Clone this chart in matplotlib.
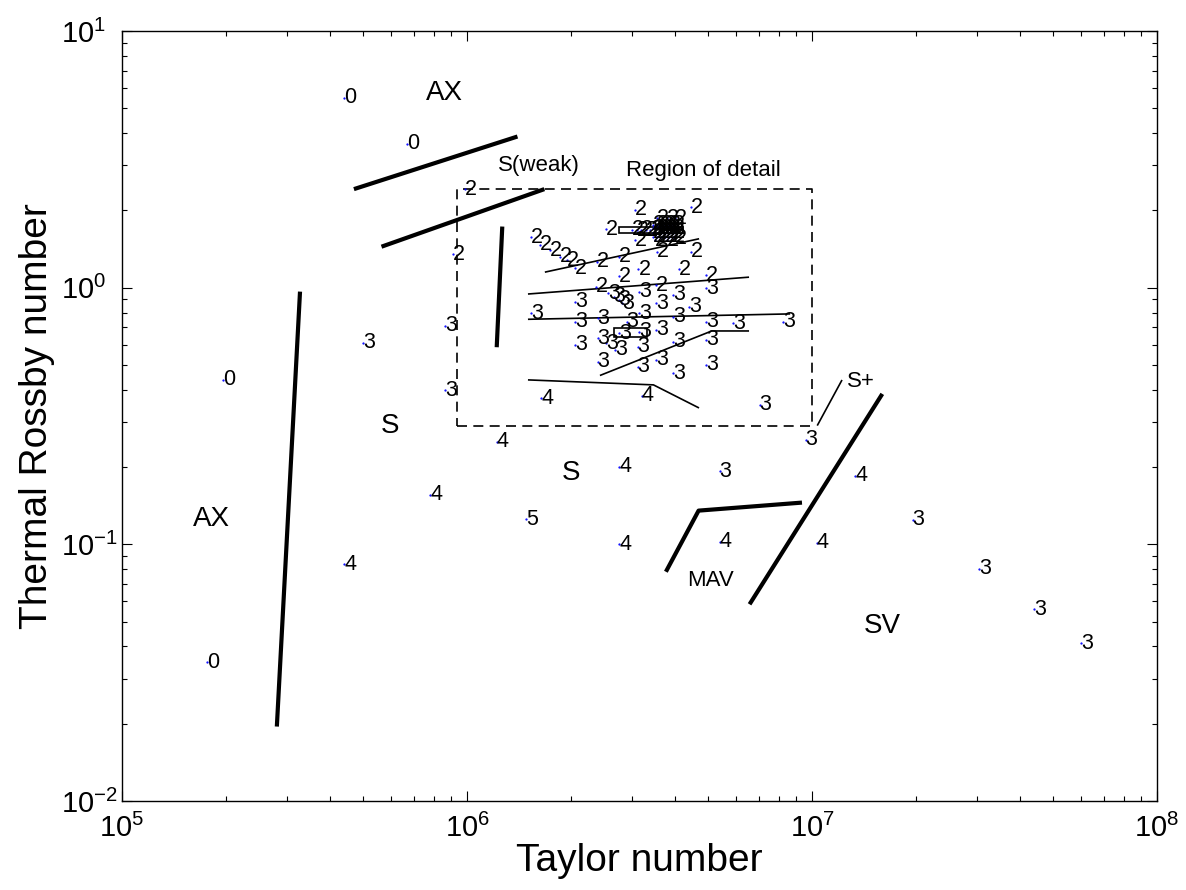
import matplotlib
matplotlib.use('Agg')
import matplotlib.pyplot as plt
from matplotlib.patches import Rectangle
from matplotlib.ticker import LogLocator, NullFormatter

plt.rcParams['font.family'] = ['Liberation Sans', 'DejaVu Sans']
plt.rcParams['mathtext.fontset'] = 'custom'
plt.rcParams['mathtext.rm'] = 'Liberation Sans'
plt.rcParams['mathtext.it'] = 'Liberation Sans:italic'

# experiment points, labelled by wavenumber (Taylor number, thermal Rossby number)
mode0_ta = [4.41e5, 6.69e5, 1.96e5, 1.76e5]
mode0_ro = [5.50, 3.63, 0.437, 0.0347]

mode2_ta = [9.87e5, 9.09e5, 3.07e6, 4.46e6, 2.53e6,
            3.00e6, 3.10e6, 3.20e6, 3.30e6, 3.40e6,
            3.55e6, 3.79e6, 4.01e6,
            3.07e6, 3.51e6, 3.79e6, 4.01e6,
            3.45e6, 3.55e6, 3.65e6, 3.75e6, 3.85e6, 3.95e6,
            3.45e6, 3.55e6, 3.65e6, 3.75e6, 3.85e6, 3.95e6,
            3.45e6, 3.55e6, 3.65e6, 3.75e6, 3.85e6, 3.95e6,
            3.45e6, 3.55e6, 3.65e6, 3.75e6, 3.85e6, 3.95e6,
            3.55e6, 4.46e6,
            1.53e6, 1.63e6, 1.74e6, 1.86e6, 1.95e6, 2.06e6,
            2.38e6, 2.75e6, 2.75e6, 3.14e6, 4.12e6, 4.92e6, 2.37e6, 3.53e6]
mode2_ro = [2.42, 1.35, 2.01, 2.06, 1.69,
            1.68, 1.67, 1.68, 1.67, 1.68,
            1.86, 1.86, 1.86,
            1.53, 1.53, 1.53, 1.56,
            1.76, 1.76, 1.76, 1.76, 1.76, 1.76,
            1.70, 1.70, 1.70, 1.70, 1.70, 1.70,
            1.64, 1.64, 1.64, 1.64, 1.64, 1.64,
            1.58, 1.58, 1.58, 1.58, 1.58, 1.58,
            1.38, 1.38,
            1.57, 1.47, 1.40, 1.32, 1.28, 1.19,
            1.26, 1.32, 1.11, 1.18, 1.18, 1.12, 1.01, 1.02]

mode3_ta = [8.64e5, 8.64e5, 4.99e5, 5.40e6, 1.956e7, 3.05e7, 4.41e7, 6.02e7, 7.05e6, 9.58e6,
            2.57e6, 2.66e6, 2.75e6, 2.81e6, 3.15e6, 3.95e6, 4.92e6, 2.06e6, 3.53e6, 4.41e6,
            1.53e6, 2.06e6, 2.39e6, 2.90e6, 3.15e6, 3.95e6, 4.92e6, 5.89e6, 8.26e6,
            2.76e6, 3.15e6, 3.53e6, 2.06e6, 2.39e6, 2.53e6, 2.69e6, 3.12e6, 3.95e6, 4.92e6,
            2.39e6, 3.12e6, 3.53e6, 3.95e6, 4.92e6]
mode3_ro = [0.709, 0.399, 0.609, 0.193, 0.1245, 0.0802, 0.0559, 0.0412, 0.349, 0.255,
            0.951, 0.922, 0.896, 0.870, 0.965, 0.937, 0.995, 0.882, 0.870, 0.843,
            0.795, 0.737, 0.760, 0.737, 0.795, 0.771, 0.737, 0.727, 0.737,
            0.664, 0.674, 0.684, 0.598, 0.635, 0.607, 0.572, 0.589, 0.616, 0.626,
            0.515, 0.492, 0.523, 0.464, 0.500]

mode4_ta = [1.22e6, 7.81e5, 4.40e5, 2.76e6, 1.336e7, 2.76e6, 5.40e6, 1.032e7, 1.64e6, 3.21e6]
mode4_ro = [0.251, 0.1557, 0.0837, 0.2008, 0.1847, 0.1001, 0.1024, 0.1015, 0.371, 0.380]

mode5_ta = [1.48e6]
mode5_ro = [0.1253]

# regime boundaries
thick_ta = [[3.28e5, 2.81e5], [4.70e5, 1.40e6], [5.65e5, 1.675e6], [1.265e6, 1.219e6],
            [3.77e6, 4.69e6, 9.35e6], [6.59e6, 1.598e7]]
thick_ro = [[0.965, 0.0195], [2.42, 3.88], [1.444, 2.42], [1.73, 0.586],
            [0.0782, 0.1353, 0.1454], [0.0584, 0.3855]]
thin_ta = [[1.038e7, 1.218e7], [1.69e6, 4.68e6], [1.51e6, 6.53e6], [1.51e6, 8.59e6],
           [2.44e6, 5.12e6, 6.53e6], [1.51e6, 3.47e6, 4.68e6]]
thin_ro = [[0.292, 0.434], [1.151, 1.548], [0.945, 1.098], [0.753, 0.790],
           [0.456, 0.678, 0.678], [0.437, 0.418, 0.341]]

# boxes: (ta_min, ta_max, ro_min, ro_max)
detail_box = (9.33e5, 1.0e7, 0.29, 2.42)
small_boxes = [(2.67e6, 3.32e6, 0.641, 0.695), (2.76e6, 4.24e6, 1.629, 1.728)]

# regime names
regime_text = ['AX', 'S(weak)', 'Region of detail', 'S', 'AX', 'S', 'MAV', 'SV', 'S+']
regime_ta = [8.58e5, 1.62e6, 4.84e6, 5.98e5, 1.82e5, 2.00e6, 5.09e6, 1.60e7, 1.39e7]
regime_ro = [5.72, 2.98, 2.87, 0.290, 0.1253, 0.1903, 0.0722, 0.0481, 0.430]
regime_size = [20, 16, 16, 20, 20, 20, 16, 20, 16]

fig = plt.figure(figsize=(11.86, 8.9), dpi=100)
ax = fig.add_axes([0.1029, 0.1, 0.8727, 0.8652])
ax.set_xscale('log')
ax.set_yscale('log')
ax.set_xlim(1e5, 1e8)
ax.set_ylim(1e-2, 1e1)

for xs, ys in zip(thick_ta, thick_ro):
    ax.plot(xs, ys, color='black', lw=3.0, solid_capstyle='butt')
for xs, ys in zip(thin_ta, thin_ro):
    ax.plot(xs, ys, color='black', lw=1.2)

x0, x1, y0, y1 = detail_box
ax.plot([x0, x1, x1, x0, x0], [y0, y0, y1, y1, y0], color='black', lw=1.2,
        dashes=(6, 3.8))
for bx0, bx1, by0, by1 in small_boxes:
    ax.add_patch(Rectangle((bx0, by0), bx1 - bx0, by1 - by0, fill=False,
                           edgecolor='black', lw=1.2))

for lab, tas, ros in [('0', mode0_ta, mode0_ro), ('2', mode2_ta, mode2_ro),
                      ('3', mode3_ta, mode3_ro), ('4', mode4_ta, mode4_ro),
                      ('5', mode5_ta, mode5_ro)]:
    ax.plot(tas, ros, linestyle='none', marker='.', ms=1.2, color='blue')
    for t, r in zip(tas, ros):
        ax.text(t, r, lab, fontsize=15.5, ha='left', va='center')

for s, t, r, fs in zip(regime_text, regime_ta, regime_ro, regime_size):
    ax.text(t, r, s, fontsize=fs, ha='center', va='center')

ax.set_xticks([1e5, 1e6, 1e7, 1e8])
ax.set_xticklabels([r'$\mathregular{10^{5}}$', r'$\mathregular{10^{6}}$',
                    r'$\mathregular{10^{7}}$', r'$\mathregular{10^{8}}$'])
ax.set_yticks([1e-2, 1e-1, 1e0, 1e1])
ax.set_yticklabels([r'$\mathregular{10^{-2}}$', r'$\mathregular{10^{-1}}$',
                    r'$\mathregular{10^{0}}$', r'$\mathregular{10^{1}}$'])
ax.xaxis.set_minor_locator(LogLocator(base=10, subs=range(2, 10)))
ax.yaxis.set_minor_locator(LogLocator(base=10, subs=range(2, 10)))
ax.xaxis.set_minor_formatter(NullFormatter())
ax.yaxis.set_minor_formatter(NullFormatter())
ax.tick_params(which='both', direction='in', top=True, right=True, width=0.8)
ax.tick_params(which='major', length=7, labelsize=21)
ax.tick_params(which='minor', length=3.5)
ax.tick_params(axis='x', which='major', pad=9)
ax.tick_params(axis='y', which='major', pad=44)
plt.setp(ax.get_yticklabels(), ha='left')
for sp in ax.spines.values():
    sp.set_linewidth(1.0)

ax.set_xlabel('Taylor number', fontsize=28, labelpad=0)
ax.set_ylabel('Thermal Rossby number', fontsize=28, labelpad=4)

fig.savefig('out.png', dpi=100)
